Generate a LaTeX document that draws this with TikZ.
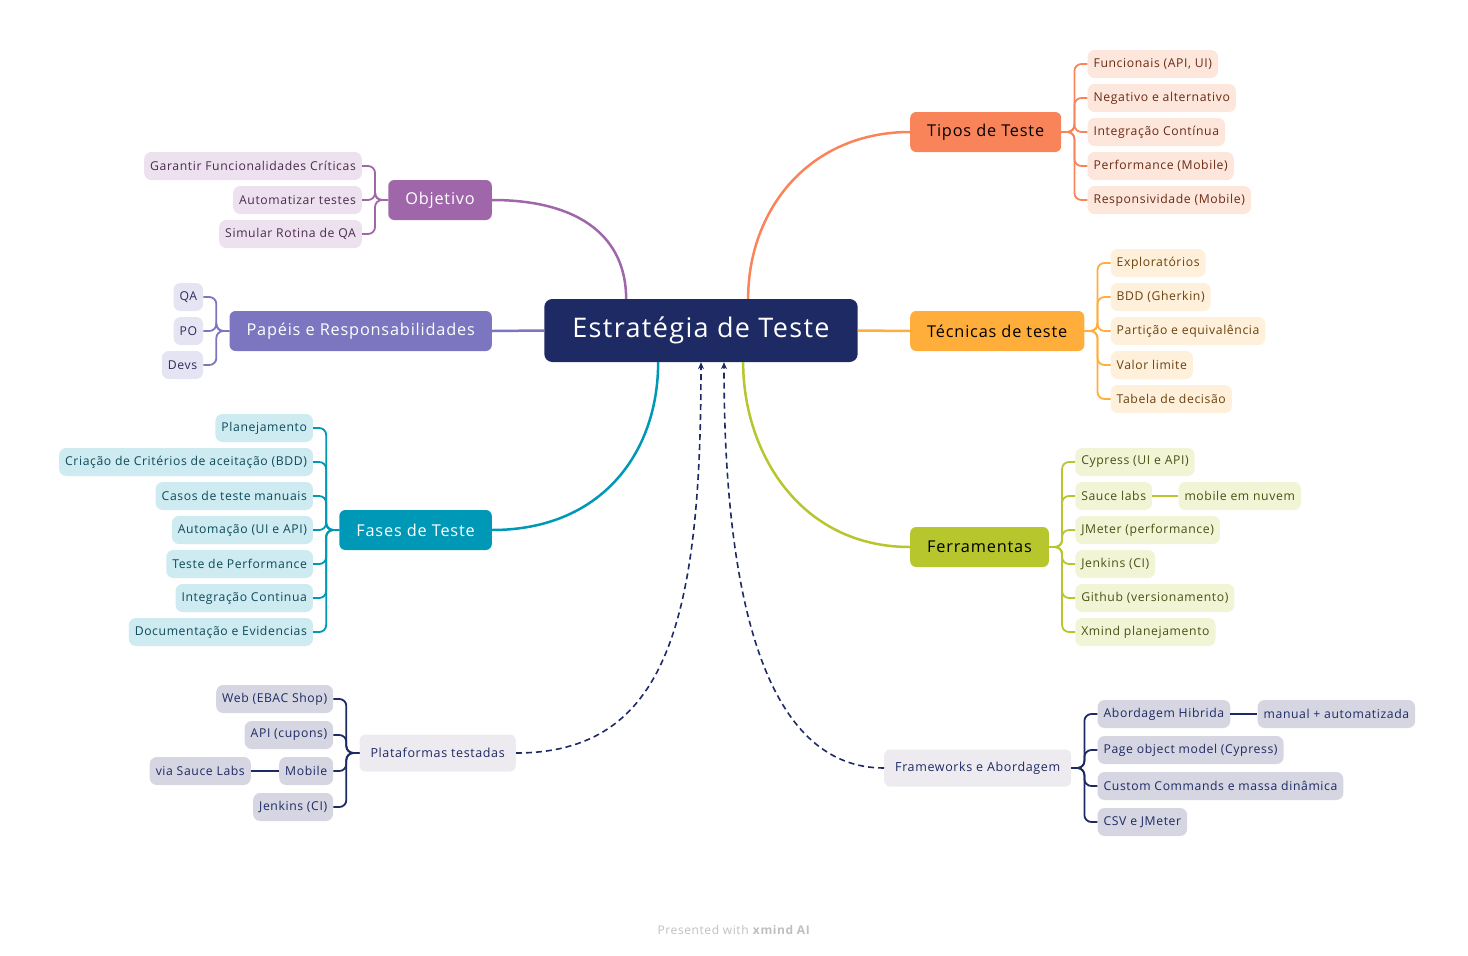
\documentclass[tikz,border=0pt]{standalone}
\usepackage{fontspec}
\setmainfont{Open Sans}[LetterSpace=5]
\usetikzlibrary{positioning,arrows.meta}

\definecolor{navy}{HTML}{1E2A64}
\definecolor{objetivo}{HTML}{A066AA}
\definecolor{objleaf}{HTML}{EEE1EF}
\definecolor{objtext}{HTML}{4A2B4F}
\definecolor{papeis}{HTML}{7B76BF}
\definecolor{papleaf}{HTML}{E5E4F3}
\definecolor{paptext}{HTML}{2E2B5A}
\definecolor{fases}{HTML}{0098B7}
\definecolor{fasleaf}{HTML}{CDEBF1}
\definecolor{fastext}{HTML}{0F4A5A}
\definecolor{tipos}{HTML}{F9845A}
\definecolor{tipleaf}{HTML}{FDE6DC}
\definecolor{tiptext}{HTML}{6A2B14}
\definecolor{tecnicas}{HTML}{FFAE3B}
\definecolor{tecleaf}{HTML}{FEF0DA}
\definecolor{tectext}{HTML}{6A4210}
\definecolor{ferramentas}{HTML}{B6C62C}
\definecolor{ferleaf}{HTML}{F2F4D6}
\definecolor{fertext}{HTML}{4A5114}
\definecolor{floatgray}{HTML}{EDEBEF}
\definecolor{navyleaf}{HTML}{D5D6E2}

\begin{document}
\begin{tikzpicture}
            [
                x=1pt, y=-1pt,
                root/.style={rectangle, rounded corners=8pt, fill=navy, text=white, minimum height=63pt, inner xsep=28pt, font=\fontsize{27}{30}\selectfont},
                topic/.style={rectangle, rounded corners=6pt, minimum height=40pt, inner xsep=17pt, font=\fontsize{16.3}{19}\selectfont},
                floating/.style={rectangle, rounded corners=6pt, fill=floatgray, text=navy, minimum height=37pt, inner xsep=11pt, font=\fontsize{12.5}{15}\selectfont},
                leaf/.style={rectangle, rounded corners=7pt, minimum height=28pt, inner xsep=6pt, font=\fontsize{12.2}{15}\selectfont},
                branch/.style={line width=2.5pt},
                twig/.style={line width=1.8pt, rounded corners=7pt},
                relation/.style={navy, line width=1.6pt, dash pattern=on 6pt off 4pt, -{Stealth[length=7pt,width=6pt]}},
            ]

            \useasboundingbox (0,0) rectangle (1468,956);

            \node[root] (cen) at (701,330.5) {Estratégia de Teste};

            %% LEFT SIDE
            \node[topic, fill=objetivo, text=white, anchor=east] (obj) at (492,200) {Objetivo};
            \foreach \t [count=\i] in {Garantir Funcionalidades Críticas, Automatizar testes, Simular Rotina de QA}
            {
                \node[leaf, fill=objleaf, text=objtext, anchor=east] (obj\i) at ([xshift=-26pt, yshift={(2-\i)*34pt}]obj.west) {\t};
                \draw[twig, objetivo] (obj.west) -- ++(-13,0) |- (obj\i.east);
            }

            \node[topic, fill=papeis, text=white, anchor=east] (pap) at (492,331) {Papéis e Responsabilidades};
            \foreach \t [count=\i] in {QA, PO, Devs}
            {
                \node[leaf, fill=papleaf, text=paptext, anchor=east] (pap\i) at ([xshift=-26pt, yshift={(2-\i)*34pt}]pap.west) {\t};
                \draw[twig, papeis] (pap.west) -- ++(-13,0) |- (pap\i.east);
            }

            \node[topic, fill=fases, text=white, anchor=east] (fas) at (492,530) {Fases de Teste};
            \foreach \t [count=\i] in {Planejamento, Criação de Critérios de aceitação (BDD), Casos de teste manuais, Automação (UI e API), Teste de Performance, Integração Continua, Documentação e Evidencias}
            {
                \node[leaf, fill=fasleaf, text=fastext, anchor=east] (fas\i) at ([xshift=-26pt, yshift={(4-\i)*34pt}]fas.west) {\t};
                \draw[twig, fases] (fas.west) -- ++(-13,0) |- (fas\i.east);
            }

            \node[floating, anchor=east] (pla) at (516,753) {Plataformas testadas};
            \foreach \t [count=\i] in {Web (EBAC Shop), API (cupons), Mobile, Jenkins (CI)}
            {
                \node[leaf, fill=navyleaf, text=navy, anchor=east] (pla\i) at ([xshift=-26pt, yshift={(2.5-\i)*36pt}]pla.west) {\t};
                \draw[twig, navy] (pla.west) -- ++(-13,0) |- (pla\i.east);
            }
            \node[leaf, fill=navyleaf, text=navy, left=28pt of pla3] (pla3a) {via Sauce Labs};
            \draw[twig, navy] (pla3) -- (pla3a);

            %% RIGHT SIDE
            \node[topic, fill=tipos, text=black, anchor=west] (tip) at (910,132) {Tipos de Teste};
            \foreach \t [count=\i] in {{Funcionais (API, UI)}, Negativo e alternativo, Integração Contínua, Performance (Mobile), Responsividade (Mobile)}
            {
                \node[leaf, fill=tipleaf, text=tiptext, anchor=west] (tip\i) at ([xshift=26pt, yshift={(3-\i)*34pt}]tip.east) {\t};
                \draw[twig, tipos] (tip.east) -- ++(13,0) |- (tip\i.west);
            }

            \node[topic, fill=tecnicas, text=black, anchor=west] (tec) at (910,331) {Técnicas de teste};
            \foreach \t [count=\i] in {Exploratórios, BDD (Gherkin), Partição e equivalência, Valor limite, Tabela de decisão}
            {
                \node[leaf, fill=tecleaf, text=tectext, anchor=west] (tec\i) at ([xshift=26pt, yshift={(3-\i)*34pt}]tec.east) {\t};
                \draw[twig, tecnicas] (tec.east) -- ++(13,0) |- (tec\i.west);
            }

            \node[topic, fill=ferramentas, text=black, anchor=west] (fer) at (910,547) {Ferramentas};
            \foreach \t [count=\i] in {Cypress (UI e API), Sauce labs, JMeter (performance), Jenkins (CI), Github (versionamento), Xmind planejamento}
            {
                \node[leaf, fill=ferleaf, text=fertext, anchor=west] (fer\i) at ([xshift=26pt, yshift={(3.5-\i)*34pt}]fer.east) {\t};
                \draw[twig, ferramentas] (fer.east) -- ++(13,0) |- (fer\i.west);
            }
            \node[leaf, fill=ferleaf, text=fertext, right=26pt of fer2] (fer2a) {mobile em nuvem};
            \draw[twig, ferramentas] (fer2) -- (fer2a);

            \node[floating, anchor=west] (fra) at (884,768) {Frameworks e Abordagem};
            \foreach \t [count=\i] in {Abordagem Hibrida, Page object model (Cypress), Custom Commands e massa dinâmica, CSV e JMeter}
            {
                \node[leaf, fill=navyleaf, text=navy, anchor=west] (fra\i) at ([xshift=26pt, yshift={(2.5-\i)*36pt}]fra.east) {\t};
                \draw[twig, navy] (fra.east) -- ++(13,0) |- (fra\i.west);
            }
            \node[leaf, fill=navyleaf, text=navy, right=27pt of fra1] (fra1a) {manual + automatizada};
            \draw[twig, navy] (fra1) -- (fra1a);

            %% BRANCHES
            \draw[branch, objetivo] (obj.east) .. controls +(90,0) and +(0,-60) .. ([xshift=82pt]cen.north west);
            \draw[branch, papeis] (pap.east) -- (cen.west);
            \draw[branch, fases] (fas.east) .. controls +(110,0) and +(0,90) .. ([xshift=114pt]cen.south west);
            \draw[branch, tipos] (tip.west) .. controls +(-100,0) and +(0,-90) .. ([xshift=204pt]cen.north west);
            \draw[branch, tecnicas] (cen.east) -- (tec.west);
            \draw[branch, ferramentas] (fer.west) .. controls +(-110,0) and +(0,90) .. ([xshift=199pt]cen.south west);

            %% RELATIONS
            \draw[relation] (pla.east) .. controls +(150,0) and +(0,260) .. (cen.south);
            \draw[relation] (fra.west) .. controls +(-110,0) and +(0,260) .. ([xshift=23pt]cen.south);

            \node[text=black!25, font=\fontsize{12}{14}\selectfont] (credit) at (734,930) {Presented with \textbf{xmind AI}};

        \end{tikzpicture}
\end{document}
